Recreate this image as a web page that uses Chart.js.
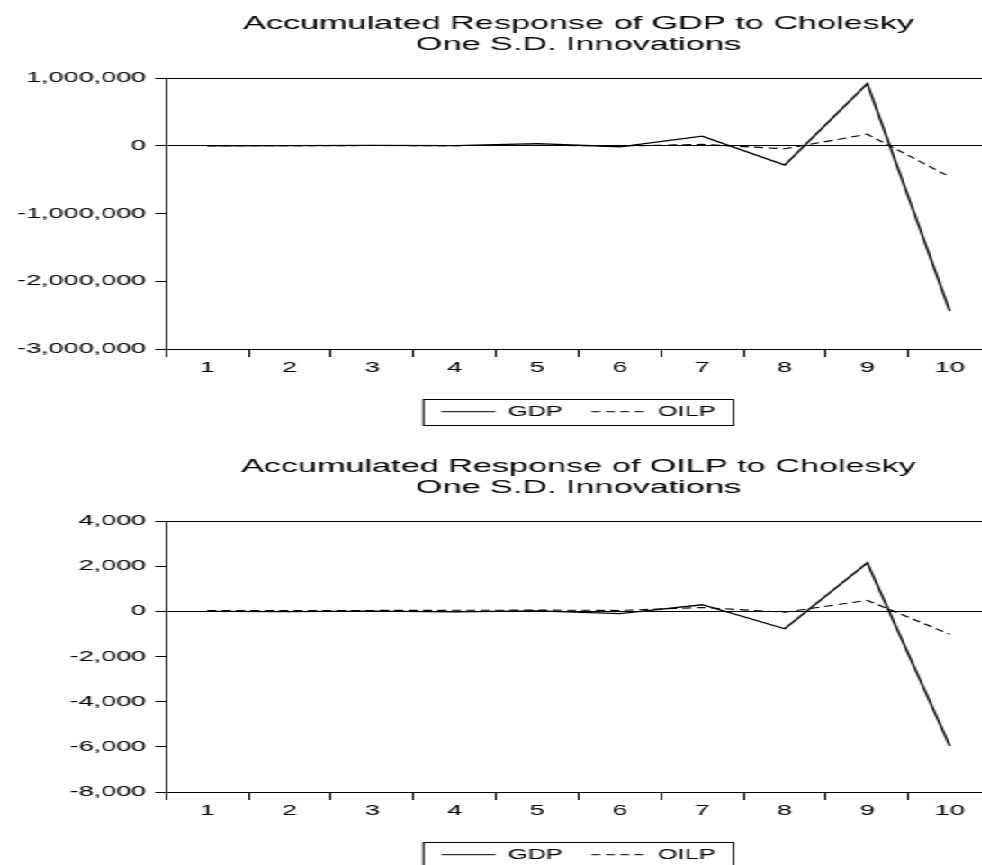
<!DOCTYPE html>
<html><head><meta charset="utf-8">
<script src="https://cdn.jsdelivr.net/npm/chart.js@4.4.1/dist/chart.umd.min.js"></script>
<style>
html,body{margin:0;padding:0;background:#fff;overflow:hidden;width:982px;height:865px;}
#stage{position:absolute;left:0;top:0;width:560px;height:890px;transform:scaleX(1.8);transform-origin:0 0;}
.box{position:absolute;left:0;width:552px;height:440px;}
</style></head>
<body>
<div id="stage">
  <div class="box" style="top:0px"><canvas id="c1"></canvas></div>
  <div class="box" style="top:443px"><canvas id="c2"></canvas></div>
</div>
<script>
// ---- data ----
const periods = ['1','2','3','4','5','6','7','8','9','10'];
const seriesNames = ['GDP','OILP'];

const titleGdp  = ['Accumulated Response of GDP to Cholesky','One S.D. Innovations'];
const titleOilp = ['Accumulated Response of OILP to Cholesky','One S.D. Innovations'];

// Response of GDP
const gdpRespGdp  = [0, 2000, 6000, 3000, 30000, -15000, 141000, -285000, 916000, -2440000];
const gdpRespOilp = [0, 1000, 3000, 2000, 8000, -4000, 20000, -45000, 170000, -460000];
const gdpTicks = [-3000000, -2000000, -1000000, 0, 1000000];

// Response of OILP
const oilpRespGdp  = [0, -10, 10, -20, 20, -100, 290, -770, 2150, -5960];
const oilpRespOilp = [30, 35, 40, 45, 55, 40, 170, -40, 485, -1015];
const oilpTicks = [-8000, -6000, -4000, -2000, 0, 2000, 4000];

// ---- rendering ----
Chart.defaults.font.family = "'Liberation Sans', Arial, sans-serif";
Chart.defaults.color = '#000';

const legendFrame = {
  id: 'legendFrame',
  afterDraw(chart) {
    const hb = chart.legend && chart.legend.legendHitBoxes;
    if (!hb || !hb.length) return;
    const ctx = chart.ctx;
    const last = hb[hb.length - 1];
    const l = hb[0].left - 10;
    const r = last.left + last.width + 10;
    const cy = hb[0].top + hb[0].height / 2;
    ctx.save();
    ctx.strokeStyle = '#000';
    ctx.lineWidth = 1;
    ctx.setLineDash([]);
    ctx.strokeRect(l, Math.round(cy - 13) + 0.5, r - l, 26);
    ctx.restore();
  }
};

function makeChart(id, title, gdp, oilp, ticks) {
  const ymin = ticks[0], ymax = ticks[ticks.length - 1];
  return new Chart(document.getElementById(id), {
    type: 'line',
    data: {
      labels: periods,
      datasets: [
        { label: seriesNames[0], data: gdp, borderColor: '#000', borderWidth: 1.3,
          pointRadius: 0, tension: 0, fill: false },
        { label: seriesNames[1], data: oilp, borderColor: '#000', borderWidth: 1.1,
          borderDash: [5, 3], pointRadius: 0, tension: 0, fill: false }
      ]
    },
    options: {
      responsive: true,
      maintainAspectRatio: false,
      devicePixelRatio: 1,
      animation: false,
      events: [],
      layout: { padding: { left: 0, right: 1.4, top: 0, bottom: 11.3 } },
      plugins: {
        title: {
          display: true, text: title, fullSize: false, color: '#000',
          font: { size: 19, weight: 'normal', lineHeight: 1.1 },
          padding: { top: 13.5, bottom: 22.7 }
        },
        legend: {
          display: true, position: 'bottom', fullSize: false,
          labels: {
            usePointStyle: true, pointStyle: 'line', pointStyleWidth: 30,
            boxHeight: 12, color: '#000', font: { size: 14 }, padding: 16,
            generateLabels(chart) {
              const items = Chart.defaults.plugins.legend.labels.generateLabels(chart);
              return items.map(it => {
                const ds = chart.data.datasets[it.datasetIndex];
                it.lineDash = ds.borderDash || [];
                it.lineWidth = 1;
                it.strokeStyle = '#000';
                return it;
              });
            }
          }
        },
        tooltip: { enabled: false }
      },
      scales: {
        x: {
          type: 'category', offset: true,
          grid: { offset: true, drawOnChartArea: false, drawTicks: true, tickLength: 8, color: '#000' },
          border: { display: true, color: '#000', width: 1 },
          ticks: { color: '#000', font: { size: 15 }, padding: 2, maxRotation: 0, autoSkip: false },
          afterFit(s) { s.height = 39.7; }
        },
        y: {
          min: ymin, max: ymax,
          afterBuildTicks(s) { s.ticks = ticks.map(v => ({ value: v })); },
          grid: {
            drawOnChartArea: true, drawTicks: true, tickLength: 6, tickColor: '#000',
            color: c => (c.tick && (c.tick.value === 0 || c.tick.value === ymax)) ? '#000' : 'rgba(0,0,0,0)'
          },
          border: { display: true, color: '#000', width: 1 },
          ticks: {
            color: '#000', font: { size: 15 }, padding: 5,
            callback: v => Number(v).toLocaleString('en-US')
          },
          afterFit(s) { s.width = 92.2; }
        }
      }
    },
    plugins: [legendFrame]
  });
}

makeChart('c1', titleGdp, gdpRespGdp, gdpRespOilp, gdpTicks);
makeChart('c2', titleOilp, oilpRespGdp, oilpRespOilp, oilpTicks);
</script>
</body></html>
